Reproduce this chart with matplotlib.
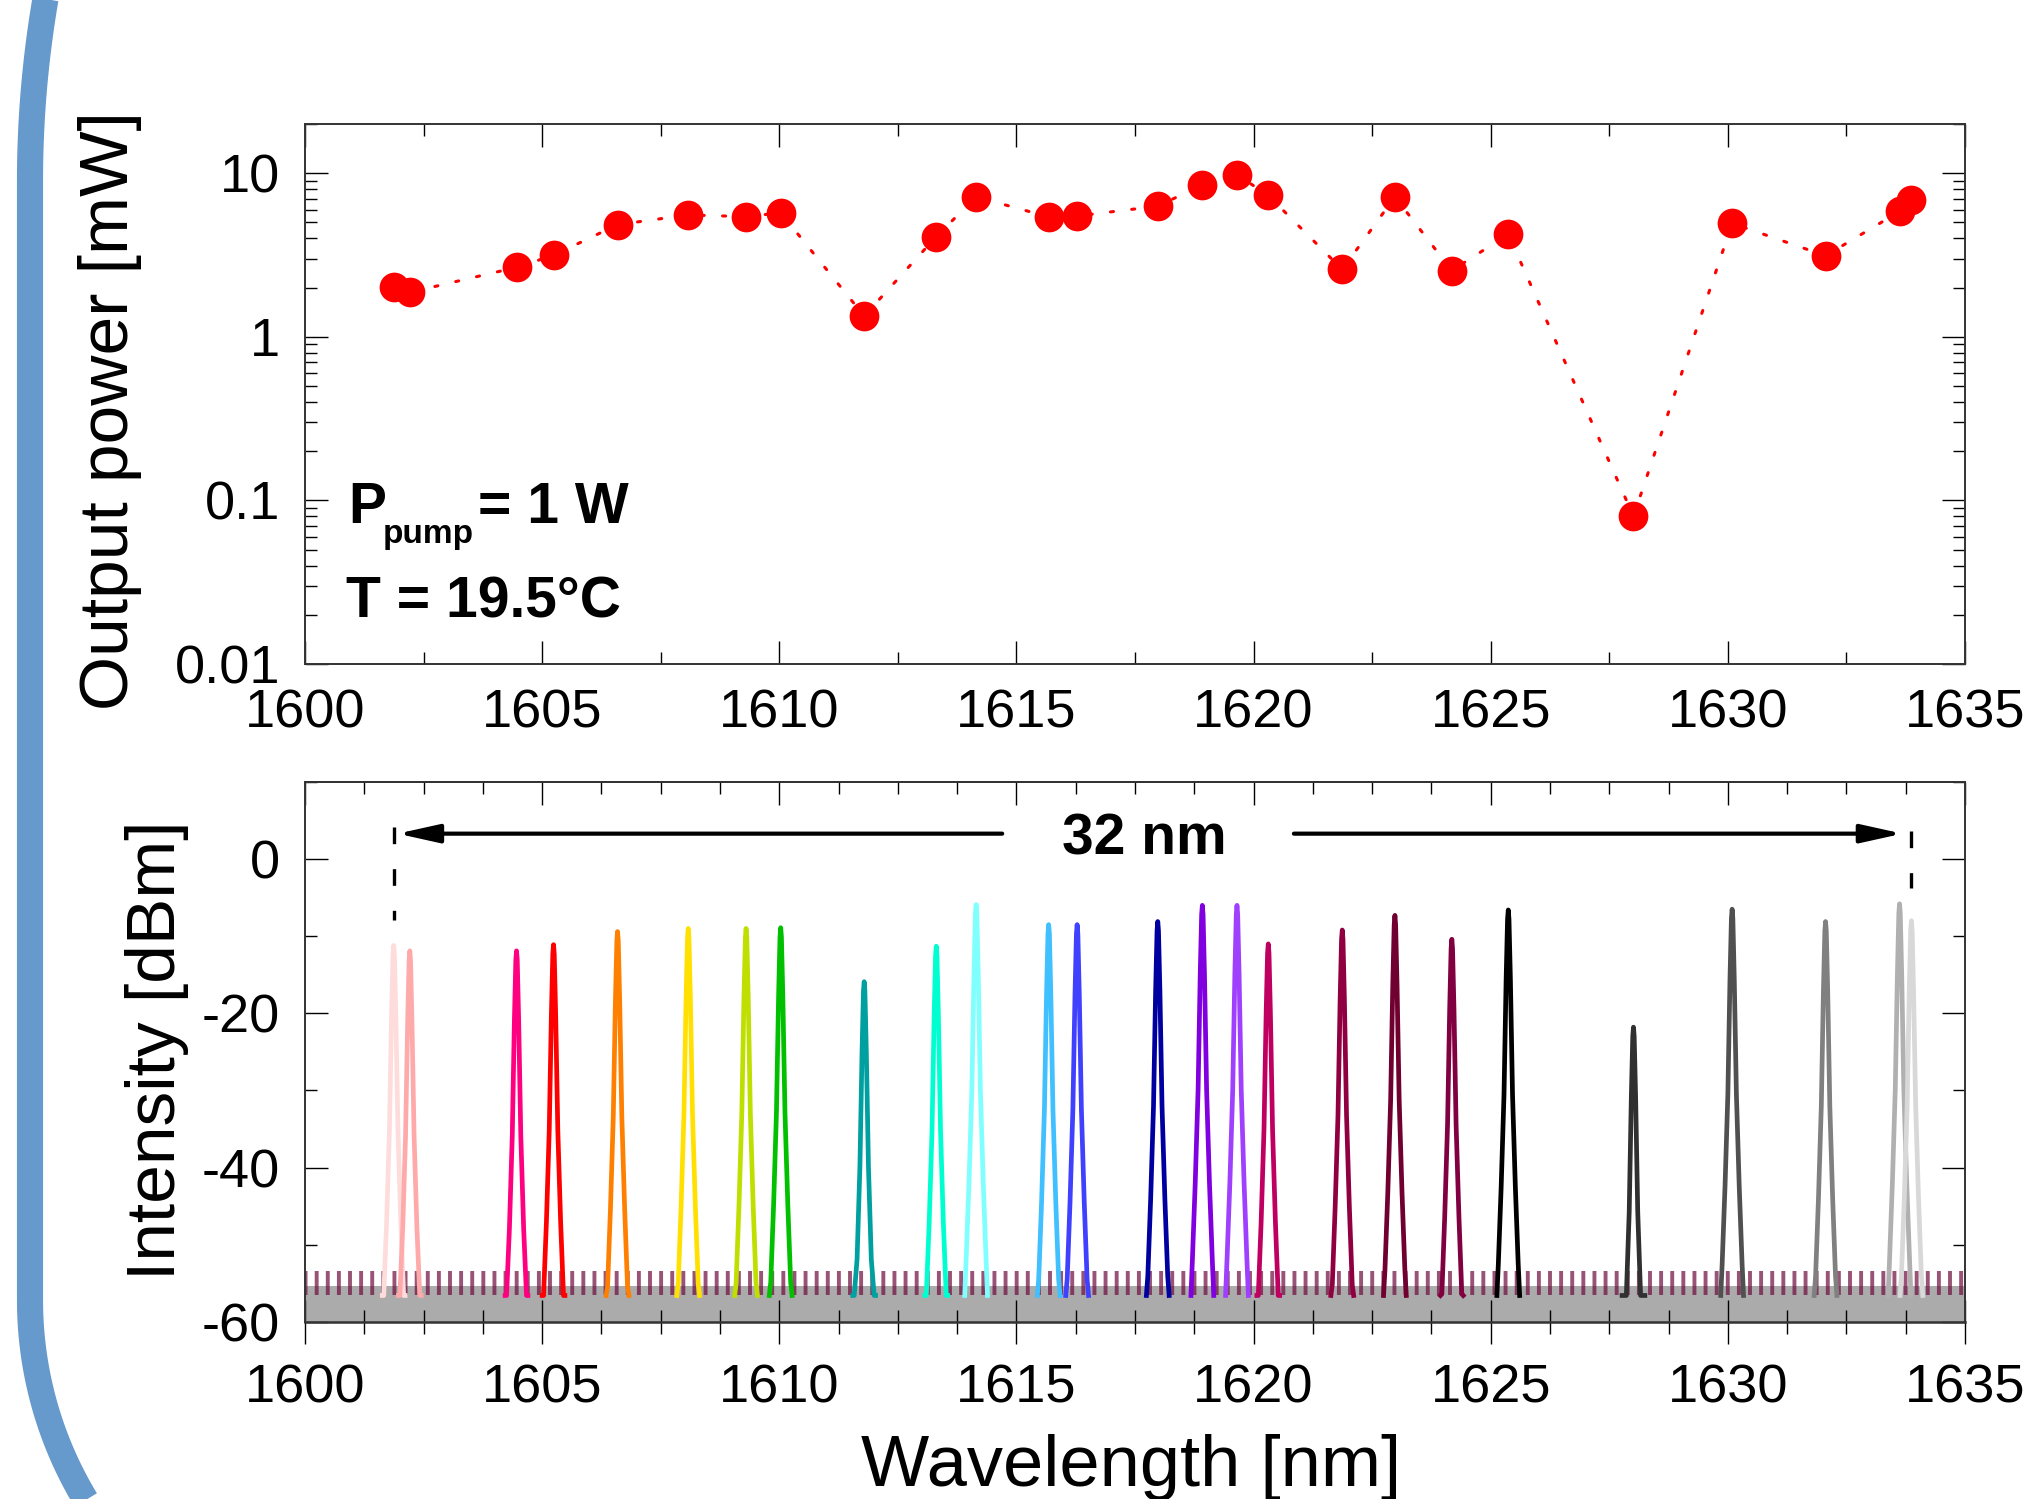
import numpy as np
import matplotlib.pyplot as plt
from matplotlib.ticker import MultipleLocator, LogLocator, NullFormatter

plt.rcParams['font.family'] = ['Liberation Sans', 'DejaVu Sans']
plt.rcParams['axes.unicode_minus'] = False
plt.rcParams['hatch.linewidth'] = 1.4

# one entry per laser line: centre wavelength [nm], output power [mW], spectrum peak [dBm]
wl = [1601.87, 1602.21, 1604.46, 1605.24, 1606.59, 1608.08, 1609.30, 1610.03,
      1611.79, 1613.31, 1614.15, 1615.68, 1616.28, 1617.98, 1618.92, 1619.65,
      1620.31, 1621.87, 1622.98, 1624.18, 1625.37, 1628.01, 1630.09, 1632.06,
      1633.62, 1633.87]
power_mw = [2.02, 1.87, 2.66, 3.15, 4.85, 5.56, 5.43, 5.73,
            1.34, 4.10, 7.17, 5.41, 5.48, 6.29, 8.50, 9.79,
            7.32, 2.58, 7.17, 2.54, 4.24, 0.080, 4.94, 3.13,
            5.84, 6.90]
peak_dbm = [-11.2, -11.9, -11.9, -11.1, -9.4, -9.0, -9.0, -8.9,
            -15.9, -11.3, -5.9, -8.5, -8.5, -8.1, -6.0, -6.0,
            -11.0, -9.2, -7.3, -10.4, -6.6, -21.8, -6.5, -8.1,
            -5.8, -8.0]
line_colors = ['#ffdcdc', '#ffaaaa', '#ff0080', '#ff0000', '#ff8000', '#ffe000', '#bfdf00', '#00c000',
               '#00a0a0', '#00ffd0', '#80ffff', '#40c0ff', '#4040ff', '#0000a0', '#8000e0', '#a040ff',
               '#c00060', '#900040', '#700030', '#800040', '#000000', '#303030', '#505050', '#808080',
               '#b0b0b0', '#d8d8d8']

# shape of one OSA line: offset from centre [nm] and drop below the peak [dB]
line_dnm = [-0.24, -0.21, -0.15, -0.09, -0.045, -0.015, 0.0, 0.015, 0.045, 0.09, 0.15, 0.21, 0.24]
line_drop = [60, 46, 36, 24, 9, 1.2, 0, 1.2, 9, 24, 36, 46, 60]
noise_floor = -55.4   # top of the grey noise floor [dBm]
noise_low, noise_high = -56.6, -53.4  # band where the noise spikes sit [dBm]

xticks = [1600, 1605, 1610, 1615, 1620, 1625, 1630, 1635]
power_ticks = [0.01, 0.1, 1, 10]
power_ticklabels = ['0.01', '0.1', '1', '10']
dbm_ticks = [-60, -40, -20, 0]
dbm_ticklabels = ['-60', '-40', '-20', '0']

# span annotation
span_text = '32 nm'
span_left, span_right = 1601.95, 1633.68
span_text_x = 1617.7
span_y = 3.3

W, H = 2024, 1499
fig = plt.figure(figsize=(W / 200, H / 200), dpi=200)

# blue rounded frame on the left (figure pixels)
bg = fig.add_axes([0, 0, 1, 1], zorder=-5)
bg.set_xlim(0, W)
bg.set_ylim(H, 0)
bg.axis('off')
r1, c1 = 1079, 181
r2, c2 = 387, 1300
t1 = np.radians(np.linspace(168, 180, 40))
t2 = np.radians(np.linspace(0, 45, 60))
fx = np.concatenate([30 + r1 + r1 * np.cos(t1), [30, 30], 30 + r2 - r2 * np.cos(t2)])
fy = np.concatenate([c1 - r1 * np.sin(t1), [c1, c2], c2 + r2 * np.sin(t2)])
bg.plot(fx, fy, color='#6699cc', lw=9.4, solid_capstyle='butt')

spine_c = '#333333'
lab_fs = 25
tick_fs = 19.5

# ---------------- top panel: output power ----------------
ax1 = fig.add_axes([305 / W, 1 - 664 / H, 1660 / W, 540 / H])
ax1.set_yscale('log')
ax1.plot(wl, power_mw, color='red', lw=1.1, ls=(0, (1, 6)), dash_capstyle='round')
ax1.plot(wl, power_mw, 'o', color='red', ms=9.7, mec='red')
ax1.set_xlim(1600, 1635)
ax1.set_ylim(0.01, 20)
ax1.set_xticks(xticks)
ax1.xaxis.set_minor_locator(MultipleLocator(2.5))
ax1.set_yticks(power_ticks)
ax1.set_yticklabels(power_ticklabels)
ax1.yaxis.set_minor_locator(LogLocator(base=10, subs=np.arange(2, 10)))
ax1.yaxis.set_minor_formatter(NullFormatter())
ax1.tick_params(which='both', direction='in', top=True, right=True, width=0.5,
                color='black', labelsize=tick_fs, pad=9)
ax1.tick_params(which='major', length=8.3)
ax1.tick_params(which='minor', length=4.3)
for s in ax1.spines.values():
    s.set_color(spine_c)
    s.set_linewidth(0.7)

ax1.text(0.026, 0.261, 'P', transform=ax1.transAxes, fontsize=20.5, fontweight='bold', va='baseline')
ax1.text(0.047, 0.224, 'pump', transform=ax1.transAxes, fontsize=12, fontweight='bold', va='baseline')
ax1.text(0.104, 0.261, '= 1 W', transform=ax1.transAxes, fontsize=20.5, fontweight='bold', va='baseline')
ax1.text(0.025, 0.087, 'T = 19.5°C', transform=ax1.transAxes, fontsize=20.5, fontweight='bold', va='baseline')

# ---------------- bottom panel: spectra ----------------
ax2 = fig.add_axes([305 / W, 1 - 1321.7 / H, 1660 / W, 539.7 / H])
ax2.fill_between([1600, 1635], -60, noise_floor, color='#ababab', lw=0, zorder=1)
ax2.fill_between([1600, 1635], noise_low, noise_high, facecolor='none',
                 edgecolor='#6e0a3c', hatch='|||', lw=0, alpha=0.7, zorder=1.5)
for c, p, col in zip(wl, peak_dbm, line_colors):
    xs = [c + d for d in line_dnm]
    ys = [max(p - d, noise_low) for d in line_drop]
    ax2.plot(xs, ys, color=col, lw=1.7, zorder=3, solid_joinstyle='round')

ax2.set_xlim(1600, 1635)
ax2.set_ylim(-60, 10)
ax2.set_xticks(xticks)
ax2.xaxis.set_minor_locator(MultipleLocator(1.25))
ax2.set_yticks(dbm_ticks)
ax2.set_yticklabels(dbm_ticklabels)
ax2.yaxis.set_minor_locator(MultipleLocator(10))
ax2.tick_params(axis='y', which='both', direction='in', right=True, width=0.5,
                labelsize=tick_fs, pad=9)
ax2.tick_params(axis='y', which='major', length=8.3)
ax2.tick_params(axis='y', which='minor', length=4.3)
ax2.tick_params(axis='x', which='both', direction='inout', top=False, width=0.5,
                labelsize=tick_fs, pad=7)
ax2.tick_params(axis='x', which='major', length=15.8)
ax2.tick_params(axis='x', which='minor', length=8.3)
top2 = ax2.secondary_xaxis('top')
top2.set_xticks(xticks)
top2.xaxis.set_minor_locator(MultipleLocator(1.25))
top2.tick_params(which='both', direction='in', width=0.5, labeltop=False)
top2.tick_params(which='major', length=8.3)
top2.tick_params(which='minor', length=4.3)
for s in list(ax2.spines.values()) + list(top2.spines.values()):
    s.set_color(spine_c)
    s.set_linewidth(0.7)
ax2.spines['bottom'].set_linewidth(0.9)

arrow = dict(arrowstyle='-|>,head_length=0.9,head_width=0.2', mutation_scale=14,
             lw=1.5, color='black', shrinkA=0, shrinkB=0, capstyle='round')
ax2.annotate('', xy=(span_left, span_y), xytext=(1614.7, span_y), arrowprops=arrow, zorder=4)
ax2.annotate('', xy=(span_right, span_y), xytext=(1620.85, span_y), arrowprops=arrow, zorder=4)
ax2.plot([wl[0], wl[0]], [4.2, -7.9], color='black', lw=1.2, ls=(0, (5, 7.5)), zorder=4)
ax2.plot([wl[-1], wl[-1]], [3.7, -3.7], color='black', lw=1.2, ls=(0, (5, 7.5)), zorder=4)
ax2.text(span_text_x, 0.65, span_text, ha='center', va='baseline', fontsize=20.5, fontweight='bold')

fig.text(0.0543, 0.726, 'Output power [mW]', rotation=90, ha='center', va='center', fontsize=lab_fs)
fig.text(0.0776, 0.2996, 'Intensity [dBm]', rotation=90, ha='center', va='center', fontsize=lab_fs)
fig.text(0.559, 0.0087, 'Wavelength [nm]', ha='center', va='baseline', fontsize=lab_fs + 1)

fig.savefig('out.png', dpi=200)
